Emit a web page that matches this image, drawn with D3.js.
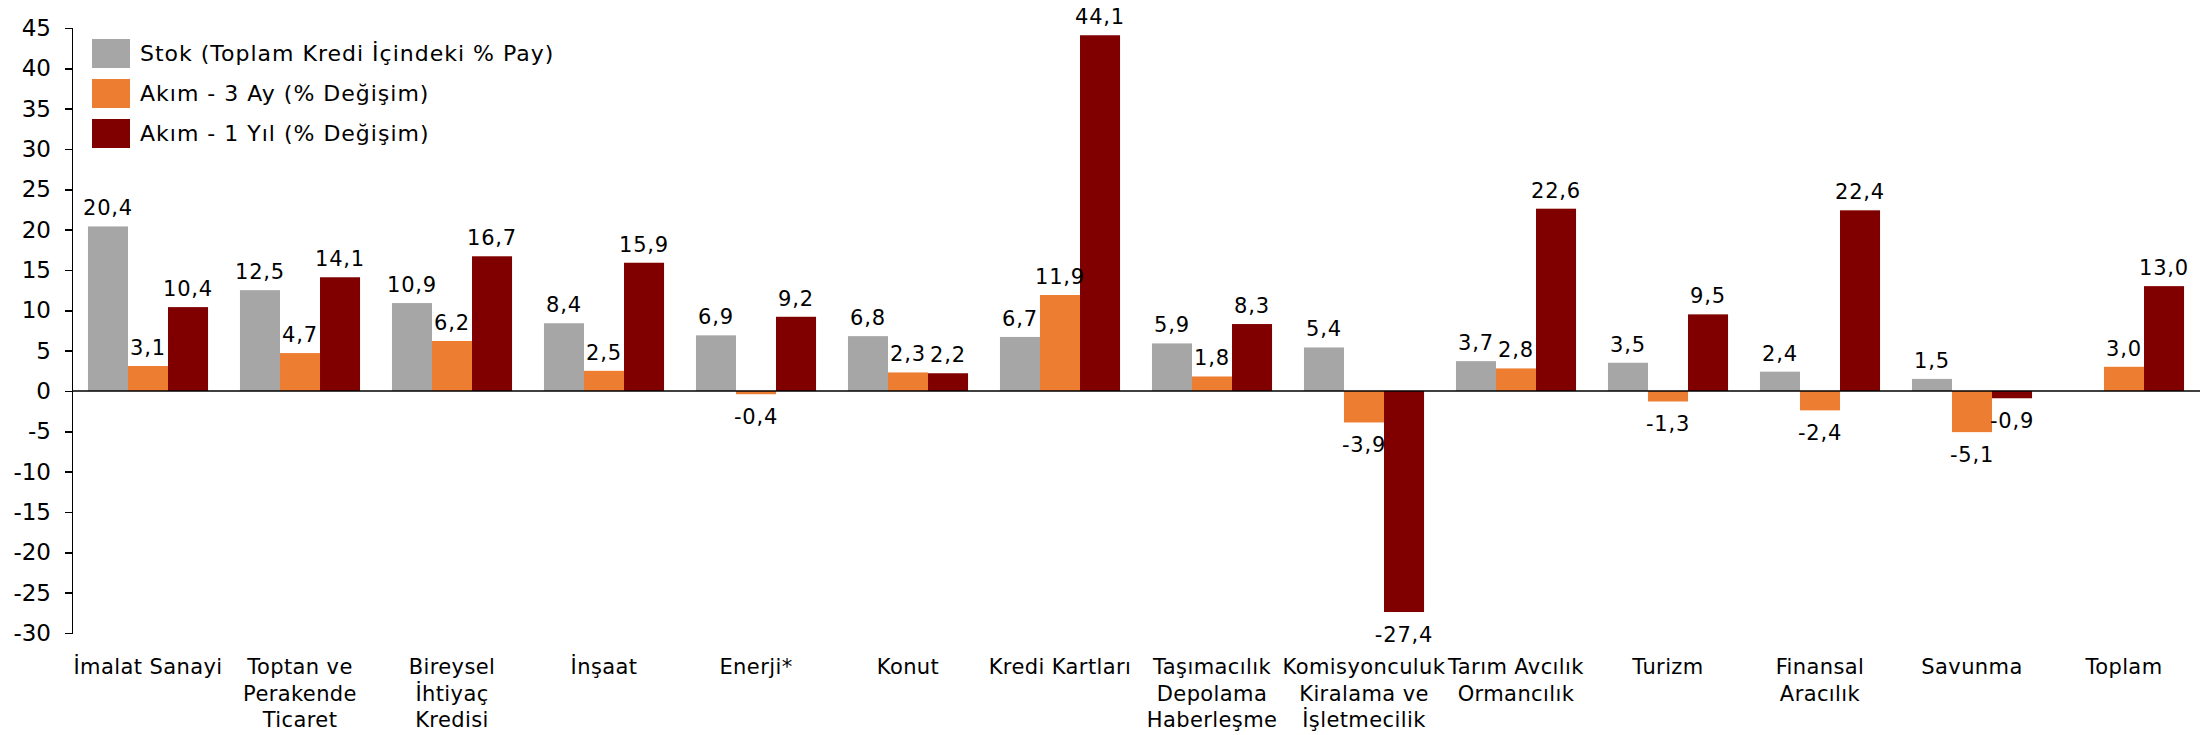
<!DOCTYPE html>
<html>
<head>
    <meta charset='utf-8' />
    <title>Kredi dağılımı</title>
    <script src="https://d3js.org/d3.v7.min.js" charset="utf-8"></script>
    <style>
        body {
            margin: 0;
            background: #fff;
            font-family: "DejaVu Sans", sans-serif;
        }

        .axis path,
        .axis line {
            fill: none;
            stroke: #000;
            stroke-width: 1.5px;
            shape-rendering: crispEdges;
        }

        .axis text {
            fill: #000;
            font-size: 23px;
            font-family: "DejaVu Sans", sans-serif;
        }

        .label {
            font-size: 21px;
            letter-spacing: 0.8px;
            fill: #000;
        }

        .cat {
            font-size: 21px;
            letter-spacing: 0.4px;
            fill: #000;
        }

        .legend text {
            font-size: 22px;
            letter-spacing: 1px;
            fill: #000;
        }
    </style>
</head>
<body>
<div id="graphic"></div>
<script>
    var categories = ["İmalat Sanayi", "Toptan ve\nPerakende\nTicaret", "Bireysel\nİhtiyaç\nKredisi", "İnşaat",
        "Enerji*", "Konut", "Kredi Kartları", "Taşımacılık\nDepolama\nHaberleşme",
        "Komisyonculuk\nKiralama ve\nİşletmecilik", "Tarım Avcılık\nOrmancılık", "Turizm",
        "Finansal\nAracılık", "Savunma", "Toplam"];

    var seriesNames = ["Stok (Toplam Kredi İçindeki % Pay)", "Akım - 3 Ay (% Değişim)", "Akım - 1 Yıl (% Değişim)"];
    var seriesColors = ["#a6a6a6", "#ed7d31", "#800000"];

    var stok = [20.4, 12.5, 10.9, 8.4, 6.9, 6.8, 6.7, 5.9, 5.4, 3.7, 3.5, 2.4, 1.5, null];
    var akim3Ay = [3.1, 4.7, 6.2, 2.5, -0.4, 2.3, 11.9, 1.8, -3.9, 2.8, -1.3, -2.4, -5.1, 3.0];
    var akim1Yil = [10.4, 14.1, 16.7, 15.9, 9.2, 2.2, 44.1, 8.3, -27.4, 22.6, 9.5, 22.4, -0.9, 13.0];

    var yTicks = d3.range(-30, 50, 5);

    var series = [stok, akim3Ay, akim1Yil];

    var width = 2201, height = 735;
    var plot = {left: 72, right: 2200, top: 28, bottom: 633};

    var svg = d3.select("#graphic").append("svg")
        .attr("width", width)
        .attr("height", height);

    var x = d3.scaleBand()
        .domain(categories)
        .range([plot.left, plot.right])
        .paddingInner(0.21)
        .paddingOuter(0.105);

    var xs = d3.scaleBand()
        .domain([0, 1, 2])
        .range([0, x.bandwidth()]);

    var y = d3.scaleLinear()
        .domain([-30, 45])
        .range([plot.bottom, plot.top]);

    // comma decimals, plain hyphen for negatives
    var fmt = function (v) {
        return d3.format(".1f")(v).replace(".", ",").replace("\u2212", "-");
    };

    // bars
    var rows = [];
    categories.forEach(function (c, i) {
        series.forEach(function (s, k) {
            if (s[i] !== null) rows.push({cat: c, k: k, value: s[i]});
        });
    });

    svg.selectAll(".bar")
        .data(rows)
        .enter()
        .append("rect")
        .attr("class", "bar")
        .attr("x", function (d) { return x(d.cat) + xs(d.k); })
        .attr("width", xs.bandwidth())
        .attr("y", function (d) { return y(Math.max(0, d.value)); })
        .attr("height", function (d) { return Math.abs(y(d.value) - y(0)); })
        .attr("fill", function (d) { return seriesColors[d.k]; });

    svg.selectAll(".label")
        .data(rows)
        .enter()
        .append("text")
        .attr("class", "label")
        .attr("text-anchor", "middle")
        .attr("x", function (d) { return x(d.cat) + xs(d.k) + xs.bandwidth() / 2; })
        .attr("y", function (d) { return d.value >= 0 ? y(d.value) - 11 : y(d.value) + 30; })
        .text(function (d) { return fmt(d.value); });

    // y axis
    svg.append("g")
        .attr("class", "y axis")
        .attr("transform", "translate(" + plot.left + ",0)")
        .call(d3.axisLeft(y).tickValues(yTicks).tickSize(7).tickPadding(14)
            .tickFormat(function (d) { return String(d); }));

    // zero line
    svg.append("line")
        .attr("x1", plot.left).attr("x2", plot.right)
        .attr("y1", y(0)).attr("y2", y(0))
        .attr("stroke", "#000")
        .attr("stroke-width", 1.5);

    // category labels
    var cats = svg.selectAll(".cat")
        .data(categories)
        .enter()
        .append("text")
        .attr("class", "cat")
        .attr("text-anchor", "middle")
        .attr("y", plot.bottom + 41);

    cats.each(function (d) {
        var t = d3.select(this);
        d.split("\n").forEach(function (line, j) {
            t.append("tspan")
                .attr("x", x(d) + x.bandwidth() / 2)
                .attr("dy", j === 0 ? 0 : 26.5)
                .text(line);
        });
    });

    // legend
    var legend = svg.append("g").attr("class", "legend");
    seriesNames.forEach(function (n, i) {
        legend.append("rect")
            .attr("x", 92).attr("y", 39 + i * 40)
            .attr("width", 38).attr("height", 29)
            .attr("fill", seriesColors[i]);
        legend.append("text")
            .attr("x", 140).attr("y", 61 + i * 40)
            .text(n);
    });
</script>
</body>
</html>
